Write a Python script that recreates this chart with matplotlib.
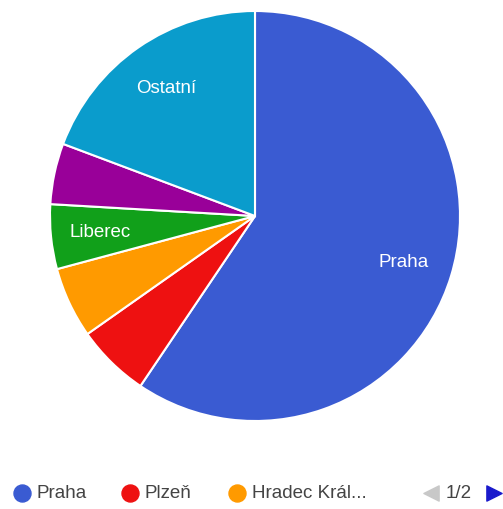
import matplotlib.pyplot as plt
import numpy as np

plt.rcParams['font.family'] = ['Liberation Sans', 'DejaVu Sans']

cities = ["Praha", "Plzeň", "Hradec Králové", "Liberec", "Olomouc", "Ostatní"]
shares = [59.5, 5.8, 5.6, 5.1, 4.8, 19.3]
colors = ["#3a5bd2", "#ee1111", "#ff9a00", "#11a01a", "#990099", "#0a9ccc"]
labelled = ["Praha", "Liberec", "Ostatní"]
legend_count = 3

W, H = 503, 510
fig = plt.figure(figsize=(W / 100, H / 100), dpi=100)

# pie axes: centre ~ (255, 217) px, radius ~ 205 px
cx, cy, r = 255, 217, 205
ax = fig.add_axes([(cx - r) / W, (H - cy - r) / H, 2 * r / W, 2 * r / H])
wedges, _ = ax.pie(shares, colors=colors, startangle=90, counterclock=False,
                   wedgeprops=dict(edgecolor="white", linewidth=1.5))
ax.set_xlim(-1, 1)
ax.set_ylim(-1, 1)
ax.set_aspect("equal")
ax.axis("off")

for w, name in zip(wedges, cities):
    if name in labelled:
        mid = np.deg2rad((w.theta1 + w.theta2) / 2)
        ax.text(0.76 * np.cos(mid), 0.76 * np.sin(mid), name, color="white",
                fontsize=13.5, ha="center", va="center")

# legend strip
lax = fig.add_axes([0, 0, 1, 70 / H])
lax.set_xlim(0, W)
lax.set_ylim(70, 0)
lax.axis("off")
ly = 54
xs = [22, 130, 237]
for x, name, c in zip(xs, cities[:legend_count], colors[:legend_count]):
    lax.scatter([x], [ly], s=150, color=c)
    txt = name if len(name) <= 12 else name[:11] + "..."
    lax.text(x + 15, ly, txt, fontsize=13.5, color="#444444", va="center", ha="left")

lax.scatter([431], [ly], marker="<", s=120, color="#c8c8c8")
lax.text(459, ly, "1/2", fontsize=13.5, color="#444444", va="center", ha="center")
lax.scatter([494], [ly], marker=">", s=120, color="#1a1acc")

fig.savefig("out.png", dpi=100)
